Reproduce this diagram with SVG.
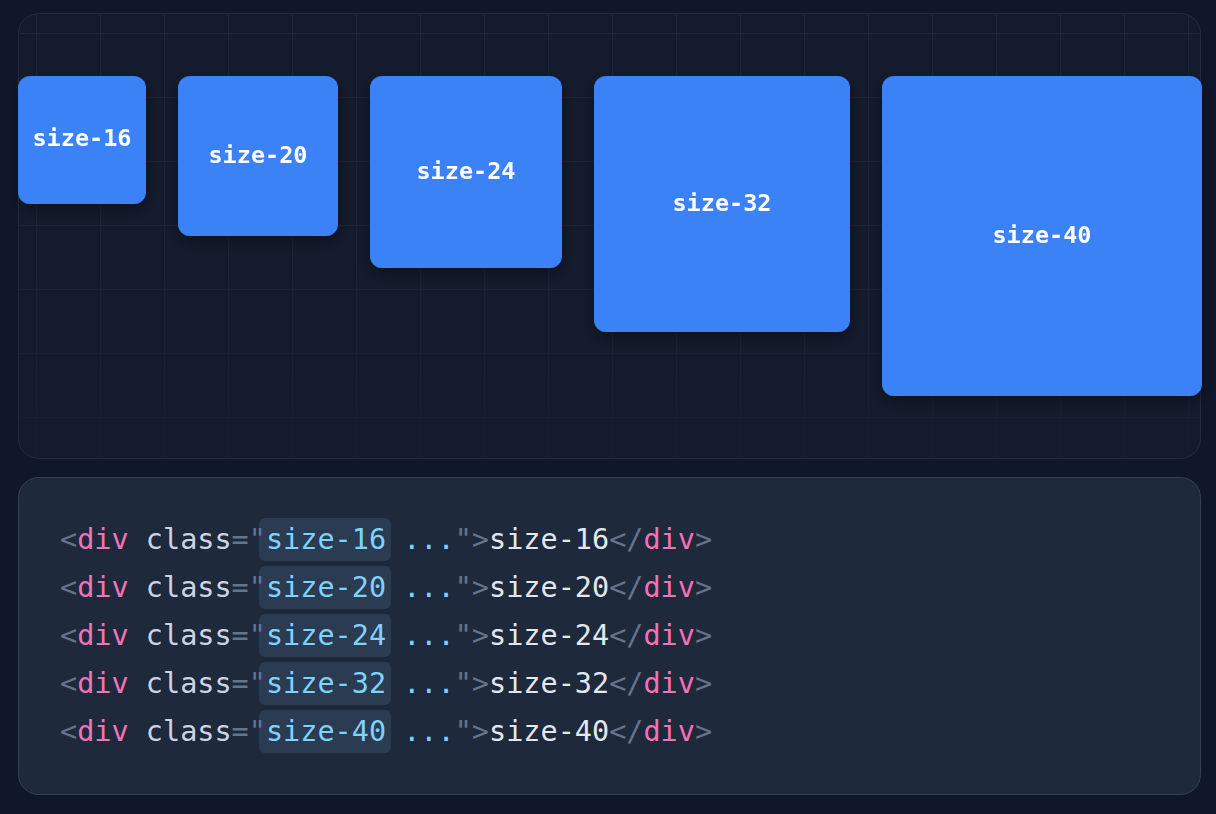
<svg xmlns="http://www.w3.org/2000/svg" width="1216" height="814" viewBox="0 0 1216 814">
<defs>
<style>
.lbl{font-family:"DejaVu Sans Mono","Liberation Mono",monospace;font-weight:bold;font-size:23.5px;fill:#ffffff;text-anchor:middle;dominant-baseline:central}
.box{fill:#3b82f6}
.code{font-family:"DejaVu Sans Mono","Liberation Mono",monospace;font-size:28.5px;white-space:pre}
.p{fill:#64748b}.t{fill:#f472b6}.a{fill:#cbd5e1}.v{fill:#7dd3fc}.w{fill:#e2e8f0}
.hl{fill:#2a3b52}
.grid line{stroke:#1e2638;stroke-width:1}
</style>
<filter id="sh" x="-20%" y="-20%" width="140%" height="150%">
<feDropShadow dx="0" dy="6" stdDeviation="7" flood-color="#000" flood-opacity="0.35"/>
</filter>
<linearGradient id="fade" x1="0" y1="0" x2="0" y2="1">
<stop offset="0" stop-color="#fff" stop-opacity="1"/>
<stop offset="0.7" stop-color="#fff" stop-opacity="0.8"/>
<stop offset="1" stop-color="#fff" stop-opacity="0.25"/>
</linearGradient>
<mask id="gm"><rect x="18" y="13" width="1183" height="446" fill="url(#fade)"/></mask>
<clipPath id="pc"><rect x="19" y="14" width="1181" height="444" rx="20"/></clipPath>
</defs>
<rect width="1216" height="814" fill="#10172a"/>
<g id="preview">
<rect x="18.5" y="13.5" width="1182" height="445" rx="20" fill="#141b2d" stroke="#222b3c"/>
<g class="grid" clip-path="url(#pc)" mask="url(#gm)">
<line x1="36.5" y1="13" x2="36.5" y2="459"/><line x1="100.5" y1="13" x2="100.5" y2="459"/><line x1="164.5" y1="13" x2="164.5" y2="459"/><line x1="228.5" y1="13" x2="228.5" y2="459"/><line x1="292.5" y1="13" x2="292.5" y2="459"/><line x1="356.5" y1="13" x2="356.5" y2="459"/><line x1="420.5" y1="13" x2="420.5" y2="459"/><line x1="484.5" y1="13" x2="484.5" y2="459"/><line x1="548.5" y1="13" x2="548.5" y2="459"/><line x1="612.5" y1="13" x2="612.5" y2="459"/><line x1="676.5" y1="13" x2="676.5" y2="459"/><line x1="740.5" y1="13" x2="740.5" y2="459"/><line x1="804.5" y1="13" x2="804.5" y2="459"/><line x1="868.5" y1="13" x2="868.5" y2="459"/><line x1="932.5" y1="13" x2="932.5" y2="459"/><line x1="996.5" y1="13" x2="996.5" y2="459"/><line x1="1060.5" y1="13" x2="1060.5" y2="459"/><line x1="1124.5" y1="13" x2="1124.5" y2="459"/><line x1="1188.5" y1="13" x2="1188.5" y2="459"/>
<line x1="18" y1="33.5" x2="1201" y2="33.5"/><line x1="18" y1="97.5" x2="1201" y2="97.5"/><line x1="18" y1="161.5" x2="1201" y2="161.5"/><line x1="18" y1="225.5" x2="1201" y2="225.5"/><line x1="18" y1="289.5" x2="1201" y2="289.5"/><line x1="18" y1="353.5" x2="1201" y2="353.5"/><line x1="18" y1="417.5" x2="1201" y2="417.5"/>
</g>
</g>
<g id="size-16" filter="url(#sh)"><rect class="box" x="18" y="76" width="128" height="128" rx="12"/><text class="lbl" x="82" y="138">size-16</text></g>
<g id="size-20" filter="url(#sh)"><rect class="box" x="178" y="76" width="160" height="160" rx="12"/><text class="lbl" x="258" y="155">size-20</text></g>
<g id="size-24" filter="url(#sh)"><rect class="box" x="370" y="76" width="192" height="192" rx="12"/><text class="lbl" x="466" y="171">size-24</text></g>
<g id="size-32" filter="url(#sh)"><rect class="box" x="594" y="76" width="256" height="256" rx="12"/><text class="lbl" x="722" y="203">size-32</text></g>
<g id="size-40" filter="url(#sh)"><rect class="box" x="882" y="76" width="320" height="320" rx="12"/><text class="lbl" x="1042" y="235">size-40</text></g>
<g id="code">
<rect x="18.5" y="477.5" width="1182" height="317" rx="20" fill="#1e293b" stroke="#334155"/>
<rect class="hl" x="259" y="518" width="132" height="43" rx="6"/>
<rect class="hl" x="259" y="566" width="132" height="43" rx="6"/>
<rect class="hl" x="259" y="614" width="132" height="43" rx="6"/>
<rect class="hl" x="259" y="662" width="132" height="43" rx="6"/>
<rect class="hl" x="259" y="710" width="132" height="43" rx="6"/>
<text class="code" x="60" y="549"><tspan class="p">&lt;</tspan><tspan class="t">div</tspan><tspan class="a"> class</tspan><tspan class="p">="</tspan><tspan class="v">size-16 ...</tspan><tspan class="p">"&gt;</tspan><tspan class="w">size-16</tspan><tspan class="p">&lt;/</tspan><tspan class="t">div</tspan><tspan class="p">&gt;</tspan></text>
<text class="code" x="60" y="597"><tspan class="p">&lt;</tspan><tspan class="t">div</tspan><tspan class="a"> class</tspan><tspan class="p">="</tspan><tspan class="v">size-20 ...</tspan><tspan class="p">"&gt;</tspan><tspan class="w">size-20</tspan><tspan class="p">&lt;/</tspan><tspan class="t">div</tspan><tspan class="p">&gt;</tspan></text>
<text class="code" x="60" y="645"><tspan class="p">&lt;</tspan><tspan class="t">div</tspan><tspan class="a"> class</tspan><tspan class="p">="</tspan><tspan class="v">size-24 ...</tspan><tspan class="p">"&gt;</tspan><tspan class="w">size-24</tspan><tspan class="p">&lt;/</tspan><tspan class="t">div</tspan><tspan class="p">&gt;</tspan></text>
<text class="code" x="60" y="693"><tspan class="p">&lt;</tspan><tspan class="t">div</tspan><tspan class="a"> class</tspan><tspan class="p">="</tspan><tspan class="v">size-32 ...</tspan><tspan class="p">"&gt;</tspan><tspan class="w">size-32</tspan><tspan class="p">&lt;/</tspan><tspan class="t">div</tspan><tspan class="p">&gt;</tspan></text>
<text class="code" x="60" y="741"><tspan class="p">&lt;</tspan><tspan class="t">div</tspan><tspan class="a"> class</tspan><tspan class="p">="</tspan><tspan class="v">size-40 ...</tspan><tspan class="p">"&gt;</tspan><tspan class="w">size-40</tspan><tspan class="p">&lt;/</tspan><tspan class="t">div</tspan><tspan class="p">&gt;</tspan></text>
</g>
</svg>
